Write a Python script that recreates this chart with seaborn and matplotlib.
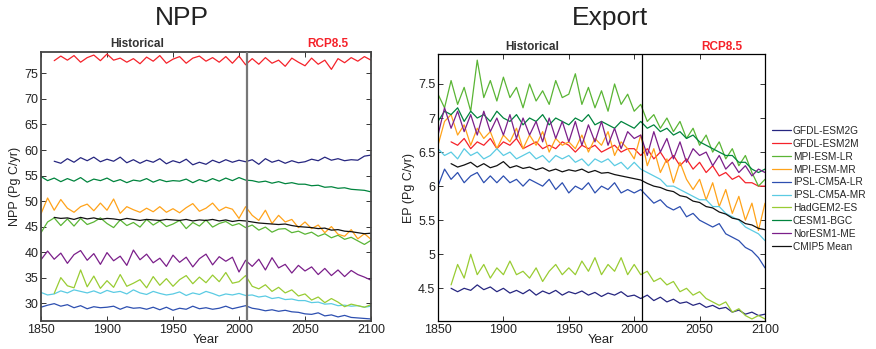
import numpy as np
import pandas as pd
import matplotlib
matplotlib.use("Agg")
import matplotlib.pyplot as plt
from matplotlib.ticker import FuncFormatter
import seaborn as sns

nan = np.nan
years = list(range(1850, 2101, 5))

models = ["GFDL-ESM2G", "GFDL-ESM2M", "MPI-ESM-LR", "MPI-ESM-MR", "IPSL-CM5A-LR",
          "IPSL-CM5A-MR", "HadGEM2-ES", "CESM1-BGC", "NorESM1-ME", "CMIP5 Mean"]
colors = ["#262680", "#f5222a", "#5ab535", "#ffa31a", "#2d4fb0",
          "#5bcbe3", "#99cc33", "#00843d", "#7b1f8a", "#111111"]

# ---------------- NPP (Pg C/yr), 5-year steps 1850..2100 ----------------
npp_gfdl_esm2g = [nan, nan, 57.8, 57.4, 58.3, 57.6, 58.5, 57.9, 58.6, 57.7,
                  58.2, 57.8, 58.6, 57.5, 58.1, 57.4, 58.0, 57.6, 58.3, 57.3,
                  57.9, 57.5, 58.2, 57.1, 57.6, 57.2, 58.0, 57.5, 58.1, 57.6,
                  58.0, 57.7, 58.1, 57.2, 58.3, 57.6, 58.0, 57.4, 57.9, 57.5,
                  57.7, 58.2, 57.9, 58.6, 58.0, 58.3, 57.9, 58.1, 58.0, 58.8,
                  59.0]
npp_gfdl_esm2m = [nan, nan, 77.5, 78.4, 77.6, 78.5, 77.2, 78.1, 78.6, 77.5,
                  78.8, 77.6, 78.0, 77.2, 77.9, 76.9, 78.2, 77.4, 78.5, 77.0,
                  77.8, 78.3, 77.0, 78.0, 78.4, 77.4, 78.1, 77.2, 78.3, 77.0,
                  78.4, 76.7, 77.9, 76.8, 78.1, 77.0, 77.6, 76.4, 78.0, 77.2,
                  76.5, 78.0, 76.8, 77.6, 75.8, 77.9, 77.1, 78.1, 77.4, 78.3,
                  77.6]
npp_mpi_lr = [43.8, 45.9, 46.7, 45.2, 46.5, 45.1, 46.6, 45.4, 45.9, 46.7,
              45.6, 44.8, 46.3, 45.2, 45.8, 44.9, 46.4, 45.3, 46.1, 45.0,
              45.5, 46.2, 44.6, 45.8, 45.1, 46.3, 44.9, 45.6, 46.0, 45.2,
              45.6, 44.8, 45.3, 44.3, 44.9, 43.9, 44.5, 44.6, 43.8, 44.1,
              43.5, 43.9, 43.1, 43.6, 42.8, 43.3, 42.5, 42.9, 42.2, 41.5,
              42.3]
npp_mpi_mr = [47.5, 50.6, 48.2, 50.3, 48.6, 47.8, 48.9, 49.4, 48.1, 49.6,
              48.2, 50.4, 47.6, 48.9, 48.3, 47.8, 48.6, 47.9, 48.9, 47.8,
              48.5, 47.7, 48.7, 49.5, 48.0, 48.6, 49.6, 48.1, 48.8, 48.4,
              46.6, 48.9, 47.2, 46.2, 48.2, 45.6, 47.2, 45.9, 46.4, 44.8,
              45.9, 44.6, 45.3, 43.8, 45.0, 43.5, 43.1, 44.4, 42.6, 43.6,
              42.5]
npp_ipsl_lr = [29.2, 29.6, 29.9, 29.4, 29.7, 29.1, 29.5, 28.9, 29.3, 29.1,
               29.2, 29.4, 28.8, 29.3, 29.0, 29.1, 28.8, 29.2, 28.7, 29.2,
               28.6, 29.0, 28.8, 29.4, 28.9, 29.1, 28.8, 29.0, 29.4, 28.9,
               29.2, 29.5, 29.0, 28.8, 28.5, 28.7, 28.4, 28.6, 28.3, 28.2,
               27.9, 27.8, 28.1, 27.5, 27.7, 27.3, 27.6, 27.2, 27.1, 27.0,
               26.9]
npp_ipsl_mr = [32.1, 31.6, 31.8, 32.4, 32.0, 32.6, 32.3, 32.0, 32.4, 31.9,
               32.5, 32.1, 32.3, 31.8, 32.6, 32.0, 31.7, 32.3, 31.9, 31.6,
               31.8, 32.2, 31.5, 32.0, 31.7, 32.3, 31.9, 31.4, 31.8, 31.6,
               31.9, 31.5, 31.6, 31.2, 31.4, 30.9, 31.1, 30.7, 30.8, 30.5,
               30.5, 30.1, 30.2, 29.8, 29.9, 29.5, 29.6, 29.4, 29.5, 29.2,
               29.4]
npp_hadgem = [nan, nan, 31.9, 35.0, 33.4, 33.0, 36.5, 33.2, 35.3, 32.9,
              34.4, 33.1, 35.6, 33.3, 33.9, 34.6, 33.0, 35.2, 33.5, 34.8,
              33.3, 34.6, 35.4, 33.8, 35.1, 34.0, 35.5, 34.2, 36.0, 33.9,
              34.2, 35.4, 33.3, 32.8, 33.6, 32.3, 33.1, 32.0, 32.6, 31.4,
              31.8, 30.6, 31.2, 30.1, 30.9, 30.2, 29.3, 29.8, 29.5, 29.2,
              29.7]
npp_cesm = [54.8, 54.0, 54.5, 53.8, 54.4, 53.9, 54.6, 53.7, 54.3, 54.0,
            54.5, 53.8, 54.2, 53.6, 54.1, 53.9, 54.4, 53.7, 54.2, 53.8,
            54.0, 53.9, 54.3, 53.6, 54.2, 53.8, 54.4, 53.9, 54.5, 54.0,
            54.6, 54.1, 54.0, 53.7, 53.9, 53.5, 53.8, 53.4, 53.6, 53.3,
            53.3, 53.0, 53.1, 52.7, 52.8, 52.5, 52.6, 52.3, 52.2, 52.1,
            51.8]
npp_noresm = [38.5, 40.2, 38.6, 39.8, 37.8, 39.5, 40.3, 38.4, 39.7, 37.6,
              39.9, 38.3, 39.2, 37.4, 40.4, 38.5, 39.6, 37.9, 38.8, 37.2,
              39.4, 38.0, 39.0, 37.1, 38.7, 39.6, 37.5, 39.1, 38.2, 39.0,
              36.1, 38.4, 37.2, 38.6, 36.5, 38.9, 36.9, 37.6, 35.9, 37.4,
              36.3, 37.1, 35.6, 36.8, 35.4, 36.5, 35.2, 36.4, 35.6, 35.1,
              34.5]
npp_mean = [nan, nan, 46.8, 46.6, 46.7, 46.4, 46.8, 46.5, 46.7, 46.4,
            46.6, 46.5, 46.3, 46.6, 46.4, 46.2, 46.4, 46.3, 46.2, 46.4,
            46.3, 46.2, 46.4, 46.1, 46.3, 46.2, 46.4, 46.1, 46.3, 46.0,
            46.2, 46.1, 45.9, 45.7, 45.6, 45.5, 45.4, 45.5, 45.2, 45.0,
            44.9, 44.8, 44.6, 44.7, 44.3, 44.4, 44.1, 44.0, 43.8, 43.6,
            43.7]

# ---------------- Export production (Pg C/yr) ----------------
ep_gfdl_esm2g = [nan, nan, 4.50, 4.45, 4.50, 4.47, 4.55, 4.48, 4.52, 4.45,
                 4.50, 4.43, 4.47, 4.42, 4.48, 4.40, 4.46, 4.42, 4.47, 4.40,
                 4.45, 4.42, 4.46, 4.40, 4.44, 4.38, 4.43, 4.40, 4.45, 4.38,
                 4.40, 4.35, 4.40, 4.32, 4.37, 4.30, 4.34, 4.28, 4.30, 4.25,
                 4.28, 4.22, 4.25, 4.20, 4.22, 4.15, 4.18, 4.12, 4.15, 4.10,
                 4.12]
ep_gfdl_esm2m = [nan, nan, 6.65, 6.60, 6.70, 6.55, 6.65, 6.60, 6.70, 6.55,
                 6.65, 6.60, 6.70, 6.55, 6.60, 6.65, 6.55, 6.60, 6.55, 6.65,
                 6.60, 6.50, 6.60, 6.55, 6.60, 6.50, 6.55, 6.60, 6.50, 6.55,
                 6.55, 6.45, 6.55, 6.40, 6.50, 6.35, 6.45, 6.30, 6.40, 6.25,
                 6.35, 6.20, 6.30, 6.15, 6.20, 6.10, 6.15, 6.05, 6.05, 6.00,
                 6.00]
ep_mpi_lr = [7.35, 7.15, 7.55, 7.20, 7.45, 7.10, 7.85, 7.30, 7.55, 7.25,
             7.60, 7.30, 7.45, 7.15, 7.50, 7.25, 7.40, 7.20, 7.55, 7.30,
             7.35, 7.65, 7.20, 7.45, 7.15, 7.40, 7.10, 7.50, 7.20, 7.35,
             7.10, 7.20, 6.95, 7.05, 6.85, 7.00, 6.80, 6.95, 6.70, 6.85,
             6.60, 6.75, 6.50, 6.65, 6.40, 6.55, 6.30, 6.45, 6.20, 6.00,
             6.10]
ep_mpi_mr = [6.60, 6.95, 7.05, 6.75, 6.90, 6.60, 6.85, 6.70, 6.80, 6.55,
             6.75, 6.65, 6.85, 6.55, 6.75, 6.60, 6.80, 6.50, 6.70, 6.60,
             6.65, 6.55, 6.75, 6.50, 6.70, 6.60, 6.80, 6.45, 6.65, 6.55,
             6.40, 6.75, 6.30, 6.55, 6.20, 6.40, 6.05, 6.35, 6.10, 5.95,
             6.10, 5.80, 6.05, 5.70, 5.95, 5.60, 5.85, 5.50, 5.75, 5.35,
             5.75]
ep_ipsl_lr = [6.00, 6.25, 6.10, 6.20, 6.05, 6.15, 6.20, 6.05, 6.15, 6.05,
              6.15, 6.05, 6.10, 6.00, 6.10, 6.05, 6.00, 6.10, 5.95, 6.05,
              5.90, 6.00, 5.95, 6.05, 5.90, 6.00, 5.95, 6.05, 5.90, 5.95,
              5.90, 5.95, 5.85, 5.75, 5.80, 5.70, 5.65, 5.70, 5.55, 5.60,
              5.50, 5.45, 5.40, 5.45, 5.30, 5.25, 5.20, 5.10, 5.05, 4.95,
              4.80]
ep_ipsl_mr = [6.55, 6.45, 6.50, 6.40, 6.55, 6.45, 6.50, 6.40, 6.45, 6.55,
              6.45, 6.50, 6.40, 6.45, 6.50, 6.40, 6.45, 6.35, 6.45, 6.40,
              6.45, 6.35, 6.40, 6.30, 6.40, 6.35, 6.40, 6.30, 6.35, 6.25,
              6.35, 6.25, 6.20, 6.15, 6.10, 6.00, 6.00, 5.95, 5.90, 5.85,
              5.80, 5.80, 5.70, 5.70, 5.60, 5.55, 5.50, 5.40, 5.35, 5.30,
              5.20]
ep_hadgem = [nan, nan, 4.55, 4.85, 4.65, 5.00, 4.70, 4.85, 4.65, 4.80,
             4.70, 4.90, 4.70, 4.75, 4.65, 4.80, 4.60, 4.75, 4.85, 4.70,
             4.80, 4.70, 4.90, 4.75, 4.95, 4.70, 4.85, 4.75, 4.95, 4.70,
             4.85, 4.70, 4.75, 4.60, 4.65, 4.55, 4.60, 4.45, 4.50, 4.40,
             4.45, 4.35, 4.30, 4.25, 4.30, 4.15, 4.20, 4.10, 4.05, 4.10,
             4.05]
ep_cesm = [6.95, 7.10, 7.05, 7.15, 6.95, 7.10, 7.00, 7.05, 6.95, 7.10,
           7.00, 6.95, 7.05, 6.90, 7.00, 6.95, 7.05, 6.90, 7.00, 6.95,
           6.90, 7.00, 6.95, 7.05, 6.90, 6.95, 6.90, 6.85, 6.95, 6.90,
           6.85, 6.95, 6.85, 6.90, 6.80, 6.85, 6.75, 6.80, 6.70, 6.75,
           6.65, 6.60, 6.55, 6.50, 6.45, 6.45, 6.35, 6.35, 6.25, 6.20,
           6.25]
ep_noresm = [6.75, 7.15, 6.85, 7.10, 6.80, 7.05, 6.75, 7.10, 6.80, 7.00,
             6.75, 7.05, 6.70, 7.00, 6.75, 6.95, 6.65, 7.00, 6.70, 6.95,
             6.65, 6.95, 6.60, 6.90, 6.65, 6.95, 6.60, 6.85, 6.55, 6.80,
             6.70, 6.75, 6.45, 6.80, 6.50, 6.70, 6.40, 6.65, 6.35, 6.55,
             6.45, 6.50, 6.30, 6.45, 6.25, 6.35, 6.20, 6.30, 6.15, 6.25,
             6.20]
ep_mean = [nan, nan, 6.33, 6.28, 6.31, 6.35, 6.28, 6.33, 6.27, 6.30,
           6.36, 6.27, 6.30, 6.26, 6.28, 6.24, 6.27, 6.22, 6.25, 6.21,
           6.24, 6.22, 6.25, 6.20, 6.23, 6.19, 6.20, 6.17, 6.15, 6.13,
           6.11, 6.09, 6.04, 6.00, 5.98, 5.94, 5.92, 5.86, 5.84, 5.78,
           5.76, 5.70, 5.68, 5.62, 5.59, 5.53, 5.51, 5.45, 5.43, 5.38,
           5.36]

npp_series = [npp_gfdl_esm2g, npp_gfdl_esm2m, npp_mpi_lr, npp_mpi_mr, npp_ipsl_lr,
              npp_ipsl_mr, npp_hadgem, npp_cesm, npp_noresm, npp_mean]
ep_series = [ep_gfdl_esm2g, ep_gfdl_esm2m, ep_mpi_lr, ep_mpi_mr, ep_ipsl_lr,
             ep_ipsl_mr, ep_hadgem, ep_cesm, ep_noresm, ep_mean]

npp_yticks = [30, 35, 40, 45, 50, 55, 60, 65, 70, 75]
ep_yticks = [4.5, 5, 5.5, 6, 6.5, 7, 7.5]
xticks = [1850, 1900, 1950, 2000, 2050, 2100]
scenario_split = 2006

sns.set_style("ticks")
plt.rcParams["font.family"] = ["Liberation Sans", "DejaVu Sans"]
plt.rcParams["xtick.direction"] = "in"
plt.rcParams["ytick.direction"] = "in"

W, H = 876, 349
fig = plt.figure(figsize=(W / 100, H / 100), dpi=100)

def px_axes(l, t, r, b):
    return fig.add_axes([l / W, 1 - b / H, (r - l) / W, (b - t) / H])

ax1 = px_axes(41, 52, 371, 321)
ax2 = px_axes(438, 54, 765, 321)

def draw(ax, series, ylim, yticks, ylabel, vcolor, vlw, spine_col, spine_lw):
    for name, col, vals in zip(models, colors, series):
        df = pd.DataFrame({"Year": years, "val": vals}).dropna()
        sns.lineplot(data=df, x="Year", y="val", color=col, lw=0.9, ax=ax, label=name)
    ax.axvline(scenario_split, color=vcolor, lw=vlw, zorder=5)
    ax.set_xlim(1850, 2100)
    ax.set_ylim(*ylim)
    ax.set_xticks(xticks)
    ax.set_yticks(yticks)
    ax.yaxis.set_major_formatter(FuncFormatter(lambda v, p: "%g" % v))
    ax.tick_params(axis="both", labelsize=9, length=3.5, width=0.7, color="#333333",
                   top=True, right=True, pad=2, labelcolor="#222222")
    ax.set_xlabel("Year", fontsize=9.5, labelpad=-1, color="#222222")
    ax.set_ylabel(ylabel, fontsize=9, labelpad=2, color="#222222")
    for s in ax.spines.values():
        s.set_color(spine_col)
        s.set_linewidth(spine_lw)
        s.set_visible(True)
    ax.get_legend().remove()

draw(ax1, npp_series, (26.5, 79.2), npp_yticks, "NPP (Pg C/yr)", "#777777", 1.6, "#444444", 1.3)
draw(ax2, ep_series, (4.02, 7.94), ep_yticks, "EP (Pg C/yr)", "#000000", 0.9, "#000000", 0.9)

fig.text(182 / W, 1 - 18 / H, "NPP", fontsize=19, ha="center", va="center", color="#222222")
fig.text(610 / W, 1 - 18 / H, "Export", fontsize=19, ha="center", va="center", color="#222222")
fig.text(137 / W, 1 - 44 / H, "Historical", fontsize=8.5, fontweight="bold", ha="center", va="center", color="#333333")
fig.text(328 / W, 1 - 44 / H, "RCP8.5", fontsize=8.5, fontweight="bold", ha="center", va="center", color="#f5222a")
fig.text(532 / W, 1 - 47 / H, "Historical", fontsize=8.5, fontweight="bold", ha="center", va="center", color="#333333")
fig.text(722 / W, 1 - 47 / H, "RCP8.5", fontsize=8.5, fontweight="bold", ha="center", va="center", color="#f5222a")

handles, labels = ax2.get_lines()[:10], models
fig.legend(handles, labels, loc="upper left", bbox_to_anchor=(772 / W, 1 - 126 / H),
           frameon=False, fontsize=7.3, handlelength=1.9, handletextpad=0.15,
           labelspacing=0.28, borderaxespad=0, borderpad=0)

fig.savefig("out.png", dpi=100)
